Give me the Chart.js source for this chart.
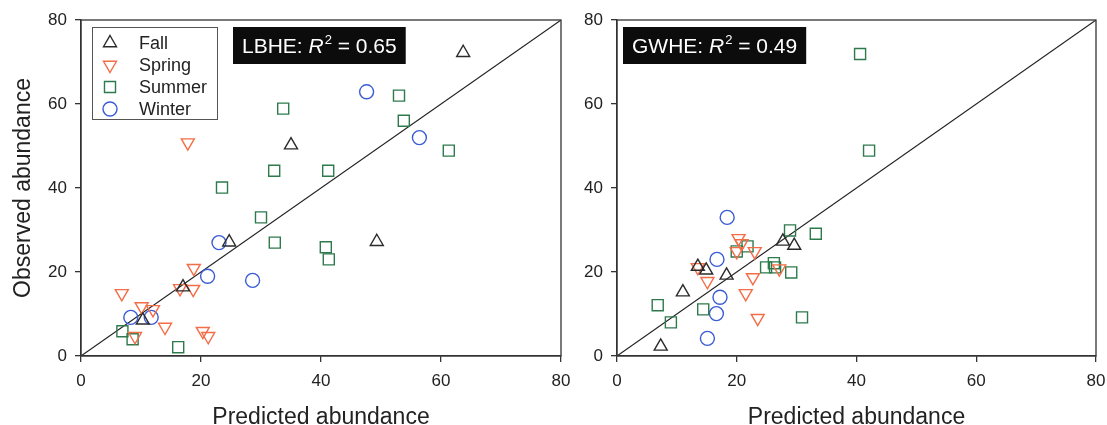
<!DOCTYPE html>
<html><head><meta charset="utf-8">
<script src="https://cdn.jsdelivr.net/npm/chart.js@4"></script>
<style>
html,body{margin:0;padding:0;background:#fff;}
#wrap{position:relative;width:1107px;height:425px;overflow:hidden;}
.c{position:absolute;top:0;height:425px;}
</style></head><body>
<div id="wrap">
<div class="c" style="left:0;width:575px"><canvas id="c1"></canvas></div>
<div class="c" style="left:575px;width:532px"><canvas id="c2"></canvas></div>
</div>
<script>
const seasons = ['Fall', 'Spring', 'Summer', 'Winter'];
const xTicks = [0, 20, 40, 60, 80];
const yTicks = [0, 20, 40, 60, 80];
const oneToOne = [0, 80];

// LBHE panel (predicted, observed)
const lbheFallPred   = [10.3, 17.0, 24.7, 35.0, 49.3, 63.7];
const lbheFallObs    = [8.5, 16.4, 27.1, 50.2, 27.2, 72.2];
const lbheSpringPred = [17.8, 18.8, 6.8, 16.5, 18.7, 10.1, 12.0, 14.0, 9.0, 20.3, 21.2];
const lbheSpringObs  = [50.8, 20.9, 14.9, 16.1, 15.9, 11.8, 11.1, 6.9, 4.7, 5.9, 4.7];
const lbheSummerPred = [33.7, 32.2, 53.0, 53.8, 61.3, 41.2, 23.5, 30.0, 32.3, 40.8, 41.3, 6.9, 8.6, 16.2];
const lbheSummerObs  = [58.9, 44.1, 62.0, 56.0, 48.9, 44.1, 40.1, 33.0, 27.0, 25.9, 23.0, 5.9, 4.0, 2.1];
const lbheWinterPred = [47.6, 56.4, 23.0, 21.1, 28.6, 8.3, 11.7];
const lbheWinterObs  = [62.9, 52.0, 27.0, 19.0, 18.0, 9.2, 9.2];

// GWHE panel (predicted, observed)
const gwheFallPred   = [7.3, 11.0, 13.5, 14.9, 18.3, 27.7, 29.6];
const gwheFallObs    = [2.3, 15.2, 21.3, 20.4, 19.2, 27.3, 26.3];
const gwheSpringPred = [20.3, 20.8, 20.0, 23.0, 13.5, 15.1, 22.7, 27.1, 21.5, 23.5];
const gwheSpringObs  = [28.0, 26.8, 24.9, 24.9, 21.1, 17.8, 18.7, 20.8, 14.9, 9.0];
const gwheSummerPred = [40.6, 42.1, 28.9, 33.2, 21.8, 20.0, 26.2, 24.9, 26.4, 29.1, 6.8, 14.4, 9.0, 30.9];
const gwheSummerObs  = [71.9, 48.9, 29.9, 29.1, 26.1, 24.9, 22.1, 21.1, 21.1, 19.9, 12.1, 11.1, 8.0, 9.2];
const gwheWinterPred = [18.4, 16.7, 17.2, 16.6, 15.1];
const gwheWinterObs  = [33.0, 23.0, 14.0, 10.1, 4.2];

const lbheLabel = {name: 'LBHE', r2: '0.65'};
const gwheLabel = {name: 'GWHE', r2: '0.49'};

const FONT = "'Liberation Sans', Arial, sans-serif";
const styles = {
  Fall:   {color: '#2b2b2b', pointStyle: 'triangle', rotation: 0,   radius: 7.5},
  Spring: {color: '#f36d47', pointStyle: 'triangle', rotation: 180, radius: 7.5},
  Summer: {color: '#2e7a4c', pointStyle: 'rect',     rotation: 0,   radius: 7.8},
  Winter: {color: '#3a5bd6', pointStyle: 'circle',   rotation: 0,   radius: 7}
};

function pts(xs, ys) { return xs.map((x, i) => ({x: x, y: ys[i]})); }

function drawMarker(ctx, st, x, y) {
  ctx.save();
  ctx.strokeStyle = st.color;
  ctx.lineWidth = 1.4;
  ctx.beginPath();
  const r = st.radius;
  if (st.pointStyle === 'circle') {
    ctx.arc(x, y, r, 0, Math.PI * 2);
  } else if (st.pointStyle === 'rect') {
    const s = r * Math.SQRT1_2;
    ctx.rect(x - s, y - s, 2 * s, 2 * s);
  } else {
    const sign = st.rotation === 180 ? -1 : 1;
    const a = Math.PI / 180;
    for (let k = 0; k < 3; k++) {
      const ang = (-90 + 120 * k) * a;
      const px = x + Math.cos(ang) * r;
      const py = y + Math.sin(ang) * r * sign;
      if (k === 0) ctx.moveTo(px, py); else ctx.lineTo(px, py);
    }
    ctx.closePath();
  }
  ctx.stroke();
  ctx.restore();
}

function makeChart(id, series, cfg) {
  const datasets = [{
    type: 'line', label: '1:1', data: pts(oneToOne, oneToOne),
    borderColor: '#222', borderWidth: 1.1, pointRadius: 0, fill: false, order: 10
  }];
  seasons.forEach((s, i) => {
    const st = styles[s];
    datasets.push({
      type: 'scatter', label: s, data: pts(series[i][0], series[i][1]),
      pointStyle: st.pointStyle, rotation: st.rotation, pointRotation: st.rotation,
      radius: st.radius, pointRadius: st.radius, pointHoverRadius: st.radius,
      borderColor: st.color, pointBorderColor: st.color,
      backgroundColor: 'rgba(0,0,0,0)', pointBackgroundColor: 'rgba(0,0,0,0)',
      borderWidth: 1.4, pointBorderWidth: 1.4
    });
  });

  const framePlugin = {
    id: 'frame',
    afterDatasetsDraw(chart) {
      const {ctx, chartArea: a} = chart;
      ctx.save();
      ctx.strokeStyle = '#333';
      ctx.lineWidth = 1.3;
      ctx.strokeRect(a.left, a.top, a.right - a.left, a.bottom - a.top);

      // label box
      const lb = cfg.label;
      const fs = 21;
      ctx.textBaseline = 'alphabetic';
      ctx.font = fs + 'px ' + FONT;
      const t1 = lb.name + ': ';
      const w1 = ctx.measureText(t1).width;
      ctx.font = 'italic ' + fs + 'px ' + FONT;
      const wR = ctx.measureText('R').width;
      ctx.font = Math.round(fs * 0.62) + 'px ' + FONT;
      const w2 = ctx.measureText('2').width;
      ctx.font = fs + 'px ' + FONT;
      const t3 = ' = ' + lb.r2;
      const w3 = ctx.measureText(t3).width;
      const padX = 9;
      const bx = a.left + cfg.boxOff, by = a.top + 7;
      const bw = w1 + wR + w2 + 1 + w3 + padX * 2, bh = 37;
      ctx.fillStyle = '#0c0c0c';
      ctx.fillRect(bx, by, bw, bh);
      ctx.fillStyle = '#fff';
      let x = bx + padX;
      const base = by + 26;
      ctx.font = fs + 'px ' + FONT;
      ctx.fillText(t1, x, base); x += w1;
      ctx.font = 'italic ' + fs + 'px ' + FONT;
      ctx.fillText('R', x, base); x += wR + 1;
      ctx.font = Math.round(fs * 0.62) + 'px ' + FONT;
      ctx.fillText('2', x, base - 9); x += w2;
      ctx.font = fs + 'px ' + FONT;
      ctx.fillText(t3, x, base);

      // legend
      if (cfg.legend) {
        const lx = a.left + 11, ly = a.top + 7, lw = 125, lh = 92;
        ctx.fillStyle = '#fff';
        ctx.fillRect(lx, ly, lw, lh);
        ctx.strokeStyle = '#555';
        ctx.lineWidth = 1;
        ctx.strokeRect(lx + 0.5, ly + 0.5, lw, lh);
        ctx.font = '18px ' + FONT;
        ctx.textBaseline = 'middle';
        seasons.forEach((s, i) => {
          const yy = ly + 16 + i * 22;
          drawMarker(ctx, styles[s], lx + 18, yy);
          ctx.fillStyle = '#222';
          ctx.fillText(s, lx + 47, yy + 1);
        });
      }
      ctx.restore();
    }
  };

  const tickFont = {family: FONT, size: 17};
  const titleFont = {family: FONT, size: 23};
  return new Chart(document.getElementById(id), {
    type: 'scatter',
    data: {datasets: datasets},
    options: {
      responsive: true, maintainAspectRatio: false, animation: false,
      layout: {padding: {top: 20, right: cfg.rightPad, left: 0, bottom: 0}},
      plugins: {legend: {display: false}, tooltip: {enabled: false}},
      scales: {
        x: {
          type: 'linear', min: 0, max: 80,
          afterBuildTicks: s => { s.ticks = xTicks.map(v => ({value: v})); },
          afterFit: s => { s.height = 69; s.paddingLeft = 0; s.paddingRight = 0; },
          ticks: {font: tickFont, color: '#222', padding: 9},
          grid: {drawOnChartArea: false, tickLength: 6, color: '#333', lineWidth: 1.3},
          border: {color: '#333', width: 1.3},
          title: {display: true, text: 'Predicted abundance', font: titleFont, color: '#222', padding: {top: 0, bottom: -6}}
        },
        y: {
          type: 'linear', min: 0, max: 80,
          afterBuildTicks: s => { s.ticks = yTicks.map(v => ({value: v})); },
          afterFit: s => { s.width = cfg.leftWidth; s.paddingTop = 0; s.paddingBottom = 0; },
          ticks: {font: tickFont, color: '#222', padding: 8},
          grid: {drawOnChartArea: false, tickLength: 6, color: '#333', lineWidth: 1.3},
          border: {color: '#333', width: 1.3},
          title: {display: cfg.yTitle, text: 'Observed abundance', font: titleFont, color: '#222', padding: {top: 10, bottom: 0}}
        }
      }
    },
    plugins: [framePlugin]
  });
}

makeChart('c1', [
  [lbheFallPred, lbheFallObs], [lbheSpringPred, lbheSpringObs],
  [lbheSummerPred, lbheSummerObs], [lbheWinterPred, lbheWinterObs]
], {yTitle: true, leftWidth: 81, rightPad: 14, label: lbheLabel, boxOff: 152, legend: true});

makeChart('c2', [
  [gwheFallPred, gwheFallObs], [gwheSpringPred, gwheSpringObs],
  [gwheSummerPred, gwheSummerObs], [gwheWinterPred, gwheWinterObs]
], {yTitle: false, leftWidth: 42, rightPad: 11, label: gwheLabel, boxOff: 6, legend: false});
</script>
</body></html>
